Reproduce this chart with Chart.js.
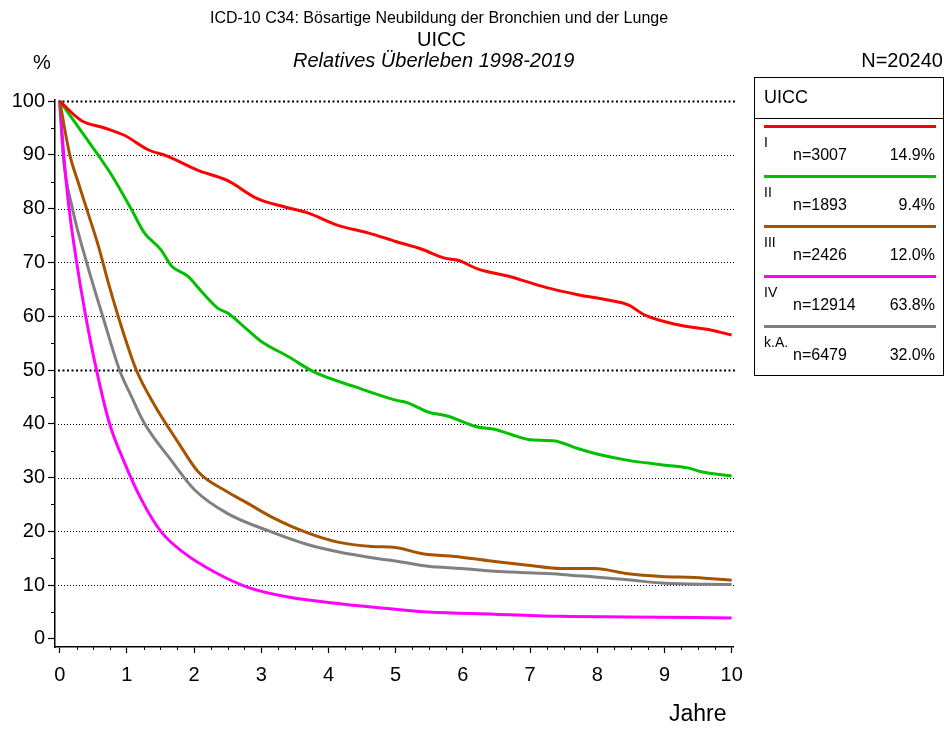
<!DOCTYPE html>
<html>
<head>
<meta charset="utf-8">
<script src="https://cdn.jsdelivr.net/npm/chart.js@4"></script>
<style>
  body { margin: 0; background: #fff; font-family: "Liberation Sans", Arial, sans-serif; }
  #wrap { position: relative; width: 947px; height: 729px; }
  canvas { position: absolute; left: 0; top: 0; }
  .t { position: absolute; line-height: 1; white-space: nowrap; color: #000; }
  #legend { position: absolute; left: 754px; top: 77px; width: 190px; height: 299px; border: 1px solid #000; box-sizing: border-box; }
</style>
</head>
<body>
<div id="wrap">
  <canvas id="chart" width="947" height="729"></canvas>
  <div class="t" style="left:210px;top:10px;font-size:16px">ICD-10 C34: Bösartige Neubildung der Bronchien und der Lunge</div>
  <div class="t" style="left:417px;top:29px;font-size:20px">UICC</div>
  <div class="t" style="left:293px;top:50px;font-size:20px;font-style:italic">Relatives Überleben 1998-2019</div>
  <div class="t" style="left:33px;top:52px;font-size:20px">%</div>
  <div class="t" style="right:4px;top:50px;font-size:20px">N=20240</div>
  <div class="t" style="left:669px;top:702px;font-size:23px">Jahre</div>
  <div id="legend"></div>
</div>
<script>
// Jahre / relatives Überleben in %
const tI = [0, 0.32, 0.67, 0.97, 1.31, 1.61, 2.06, 2.5, 2.95, 3.35, 3.69, 4.14, 4.59, 5.0, 5.38, 5.73, 5.93, 6.22, 6.72, 7.22, 7.71, 8.16, 8.46, 8.71, 9.2, 9.7, 10];
const sI = [100, 96.4, 95.0, 93.6, 91.0, 89.7, 87.1, 85.2, 81.8, 80.3, 79.2, 76.9, 75.5, 73.9, 72.5, 70.8, 70.4, 68.8, 67.3, 65.4, 64.0, 63.0, 62.1, 60.2, 58.4, 57.4, 56.5];

const tII = [0, 0.27, 0.57, 0.77, 1.07, 1.26, 1.51, 1.66, 1.91, 2.11, 2.35, 2.5, 2.8, 3.0, 3.4, 3.79, 4.39, 5.0, 5.18, 5.48, 5.78, 6.22, 6.47, 6.72, 6.97, 7.37, 7.71, 8.06, 8.46, 8.95, 9.35, 9.55, 10];
const sII = [100, 95.3, 90.0, 86.3, 79.8, 75.5, 72.3, 69.4, 67.4, 64.6, 61.5, 60.6, 57.4, 55.3, 52.5, 49.6, 46.9, 44.4, 43.9, 42.2, 41.4, 39.4, 39.0, 38.0, 37.1, 36.8, 35.4, 34.2, 33.2, 32.4, 31.8, 31.1, 30.3];

const tIII = [0, 0.15, 0.27, 0.4, 0.57, 0.74, 0.92, 1.14, 1.41, 1.76, 2.06, 2.5, 2.8, 3.15, 3.65, 4.14, 4.64, 5.0, 5.38, 5.98, 6.47, 6.97, 7.47, 7.96, 8.46, 8.95, 9.45, 10];
const sIII = [100, 90.0, 85.1, 80.0, 73.3, 65.5, 58.0, 50.0, 43.5, 36.6, 31.1, 27.3, 25.2, 22.7, 19.9, 18.0, 17.2, 17.0, 15.9, 15.2, 14.4, 13.7, 13.1, 13.1, 12.1, 11.6, 11.4, 10.9];

const tIV = [0, 0.06, 0.14, 0.25, 0.38, 0.53, 0.74, 0.97, 1.22, 1.51, 1.86, 2.31, 2.8, 3.4, 4.14, 5.0, 5.48, 6.47, 7.47, 8.46, 10];
const sIV = [100, 90.0, 80.0, 70.2, 60.5, 51.0, 40.1, 32.6, 25.8, 19.9, 15.9, 12.4, 9.6, 7.8, 6.6, 5.5, 5.0, 4.6, 4.2, 4.1, 3.9];

const tKA = [0, 0.05, 0.19, 0.4, 0.64, 0.89, 1.07, 1.26, 1.66, 2.01, 2.5, 3.15, 3.65, 4.14, 4.64, 5.0, 5.48, 5.98, 6.47, 6.97, 7.47, 7.96, 8.46, 8.95, 10];
const sKA = [100, 90.0, 80.0, 70.0, 60.0, 50.0, 45.0, 40.1, 33.2, 27.7, 23.3, 19.9, 17.7, 16.2, 15.1, 14.5, 13.5, 13.1, 12.6, 12.3, 12.0, 11.5, 11.0, 10.4, 10.1];

const groups = ['I', 'II', 'III', 'IV', 'k.A.'];
const counts = ['n=3007', 'n=1893', 'n=2426', 'n=12914', 'n=6479'];
const shares = ['14.9%', '9.4%', '12.0%', '63.8%', '32.0%'];
const colors = ['#ff0000', '#00c000', '#a65300', '#ff00ff', '#808080'];

const xTicks = [0, 1, 2, 3, 4, 5, 6, 7, 8, 9, 10];
const yTicks = [0, 10, 20, 30, 40, 50, 60, 70, 80, 90, 100];

const times = [tI, tII, tIII, tIV, tKA];
const surv = [sI, sII, sIII, sIV, sKA];

// legend box
const leg = document.getElementById('legend');
let html = '<div class="t" style="left:9px;top:10px;font-size:18px">UICC</div>' +
  '<div style="position:absolute;left:0;right:0;top:40px;border-top:1px solid #000"></div>';
groups.forEach((g, i) => {
  const y = 47 + i * 50;
  html += `<div style="position:absolute;left:9px;width:172px;top:${y}px;height:3px;background:${colors[i]}"></div>`;
  html += `<div class="t" style="left:9px;top:${y + 10}px;font-size:14px">${g}</div>`;
  html += `<div class="t" style="left:38px;top:${y + 22}px;font-size:16px">${counts[i]}</div>`;
  html += `<div class="t" style="right:8px;top:${y + 22}px;font-size:16px">${shares[i]}</div>`;
});
leg.innerHTML = html;

const gridAndTicks = {
  id: 'gridAndTicks',
  beforeDatasetsDraw(chart) {
    const { ctx, chartArea: a, scales: { y } } = chart;
    ctx.save();
    ctx.strokeStyle = '#000';
    yTicks.slice(1).forEach(v => {
      const py = Math.round(y.getPixelForValue(v)) + 0.5;
      const thick = v === 50 || v === 100;
      ctx.lineWidth = thick ? 2.2 : 1;
      ctx.setLineDash(thick ? [2, 2.5] : [1, 2]);
      ctx.beginPath();
      ctx.moveTo(a.left + 3, py);
      ctx.lineTo(a.right + 2, py);
      ctx.stroke();
    });
    ctx.restore();
  },
  afterDraw(chart) {
    const { ctx, chartArea: a, scales: { x, y } } = chart;
    ctx.save();
    ctx.strokeStyle = '#000';
    ctx.lineWidth = 1;
    for (let v = 5; v < 100; v += 10) {
      const py = Math.round(y.getPixelForValue(v)) + 0.5;
      ctx.beginPath(); ctx.moveTo(a.left - 4, py); ctx.lineTo(a.left, py); ctx.stroke();
    }
    for (let t = 0.25; t < 10; t += 0.25) {
      if (Number.isInteger(t)) continue;
      const px = Math.round(x.getPixelForValue(t)) + 0.5;
      ctx.beginPath(); ctx.moveTo(px, a.bottom); ctx.lineTo(px, a.bottom + 3); ctx.stroke();
    }
    ctx.restore();
  }
};

new Chart(document.getElementById('chart'), {
  type: 'line',
  data: {
    datasets: groups.map((g, i) => ({
      label: g,
      data: times[i].map((t, j) => ({ x: t, y: surv[i][j] })),
      borderColor: colors[i],
      borderWidth: 3,
      pointRadius: 0,
      cubicInterpolationMode: 'monotone',
      fill: false
    }))
  },
  options: {
    responsive: false,
    animation: false,
    layout: { padding: { left: 0, top: 100, right: 214, bottom: 0 } },
    plugins: { legend: { display: false }, title: { display: false }, tooltip: { enabled: false } },
    scales: {
      x: {
        type: 'linear',
        min: -0.07,
        max: 10.02,
        afterBuildTicks: s => { s.ticks = xTicks.map(v => ({ value: v })); },
        afterFit: s => { s.height = 82; s.paddingLeft = 0; s.paddingRight = 0; },
        ticks: { color: '#000', font: { family: 'Liberation Sans', size: 20 }, padding: 10, maxRotation: 0, autoSkip: false },
        grid: { drawOnChartArea: false, color: '#000', tickLength: 6, tickWidth: 1.2 },
        border: { color: '#000', width: 1.5 }
      },
      y: {
        type: 'linear',
        min: -1.5,
        max: 100.2,
        afterBuildTicks: s => { s.ticks = yTicks.map(v => ({ value: v })); },
        afterFit: s => { s.width = 55; s.paddingTop = 0; s.paddingBottom = 0; },
        ticks: { color: '#000', font: { family: 'Liberation Sans', size: 20 }, padding: 3, autoSkip: false },
        grid: { drawOnChartArea: false, color: '#000', tickLength: 7, tickWidth: 1.2 },
        border: { color: '#000', width: 1.5 }
      }
    }
  },
  plugins: [gridAndTicks]
});
</script>
</body>
</html>
